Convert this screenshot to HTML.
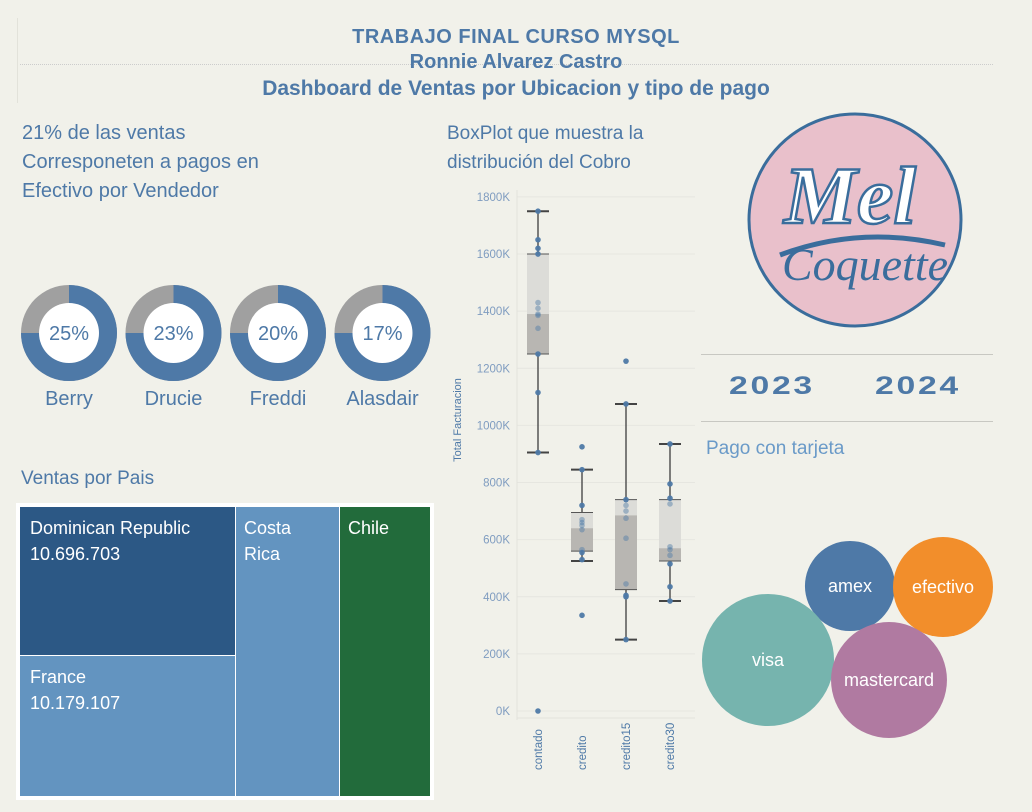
<!DOCTYPE html>
<html><head><meta charset="utf-8"><style>
body{margin:0;background:#f1f1ea;width:1032px;height:812px;overflow:hidden;font-family:"Liberation Sans",sans-serif;position:relative}
.a{position:absolute}
.t{color:#4e79a7;font-weight:bold;text-align:center;width:1032px;left:0}
</style></head><body>
<div class="a t" style="top:26px;font-size:20px;letter-spacing:0.5px">TRABAJO FINAL CURSO MYSQL</div>
<div class="a" style="left:20px;top:64px;width:973px;border-top:1px dotted #ccc"></div>
<div class="a t" style="top:51px;font-size:20px">Ronnie Alvarez Castro</div>
<div class="a t" style="top:77px;font-size:21px">Dashboard de Ventas por Ubicacion y tipo de pago</div>
<div class="a" style="left:17px;top:18px;height:85px;border-left:1px solid #e2e2da"></div>

<div class="a" style="left:22px;top:119px;font-size:20px;line-height:29px;color:#4e79a7">21% de las ventas<br>Corresponeten a pagos en<br>Efectivo por Vendedor</div>
<svg class="a" style="left:0;top:270px" width="440" height="150" id="donuts"></svg>

<div class="a" style="left:21px;top:468px;font-size:19px;color:#4e79a7">Ventas por Pais</div>
<div class="a" style="left:16px;top:503px;width:418px;height:297px;background:#fff"></div>
<div class="a" style="left:20px;top:507px;width:215px;height:148px;background:#2c5885;color:#fff;font-size:18px;line-height:26px;padding:8px 10px;box-sizing:border-box">Dominican Republic<br>10.696.703</div>
<div class="a" style="left:20px;top:656px;width:215px;height:140px;background:#6394c0;color:#fff;font-size:18px;line-height:26px;padding:8px 10px;box-sizing:border-box">France<br>10.179.107</div>
<div class="a" style="left:236px;top:507px;width:103px;height:289px;background:#6394c0;color:#fff;font-size:18px;line-height:26px;padding:8px 8px;box-sizing:border-box">Costa<br>Rica</div>
<div class="a" style="left:340px;top:507px;width:90px;height:289px;background:#226b3b;color:#fff;font-size:18px;line-height:26px;padding:8px 8px;box-sizing:border-box">Chile</div>

<div class="a" style="left:447px;top:119px;font-size:19px;line-height:29px;color:#4e79a7">BoxPlot que muestra la<br>distribución del Cobro</div>
<svg class="a" style="left:440px;top:180px" width="260" height="600" id="box"></svg>

<svg class="a" style="left:740px;top:105px" width="230" height="230">
<circle cx="115" cy="115" r="106" fill="#e9c0cb" stroke="#3a6d9c" stroke-width="3"/>
<text x="110" y="118" text-anchor="middle" font-family="Liberation Serif" font-style="italic" font-weight="bold" font-size="82" fill="#fff" stroke="#3a6d9c" stroke-width="2.5">Mel</text>
<path d="M40 150 Q120 120 205 140" stroke="#3a6d9c" stroke-width="5" fill="none"/>
<text x="125" y="175" text-anchor="middle" font-family="Liberation Serif" font-style="italic" font-size="46" fill="#3a6d9c">Coquette</text>
</svg>
<div class="a" style="left:701px;top:354px;width:292px;border-top:1px solid #c8c8c2"></div>
<div class="a" style="left:729px;top:372px;font-size:25px;font-weight:bold;color:#4e79a7;letter-spacing:2px;transform:scaleX(1.35);transform-origin:left">2023</div>
<div class="a" style="left:875px;top:372px;font-size:25px;font-weight:bold;color:#4e79a7;letter-spacing:2px;transform:scaleX(1.35);transform-origin:left">2024</div>
<div class="a" style="left:701px;top:421px;width:292px;border-top:1px solid #c8c8c2"></div>
<div class="a" style="left:706px;top:438px;font-size:19px;color:#6a9ac8">Pago con tarjeta</div>
<svg class="a" style="left:690px;top:530px" width="320" height="220" id="bub"></svg>

<script>
const NS="http://www.w3.org/2000/svg";
function mk(p,t,a){const e=document.createElementNS(NS,t);for(const k in a)e.setAttribute(k,a[k]);p.appendChild(e);return e;}
// donuts
const sellers=["Berry","Drucie","Freddi","Alasdair"];
const shares=[25,23,20,17];
const ds=document.getElementById('donuts');
sellers.forEach((s,i)=>{
  const cx=69+i*104.5,cy=63,r=48,ri=30;
  const g=mk(ds,'g',{});
  
  
  mk(g,'circle',{cx,cy,r,fill:'#a0a0a0'});
  const f=0.75,a=f*2*Math.PI;
  const x=cx+r*Math.sin(a),y=cy-r*Math.cos(a);
  mk(g,'path',{d:`M${cx} ${cy} L${cx} ${cy-r} A${r} ${r} 0 1 1 ${x} ${y} Z`,fill:'#4e79a7'});
  mk(g,'circle',{cx,cy,r:ri,fill:'#fff'});
  const t=mk(g,'text',{x:cx,y:cy+7,'text-anchor':'middle','font-size':20,fill:'#4e79a7'});t.textContent=shares[i]+'%';
  const l=mk(g,'text',{x:cx,y:cy+72,'text-anchor':'middle','font-size':20,fill:'#4e79a7'});l.textContent=s;
});
// boxplot
const cats=["contado","credito","credito15","credito30"];
const whiskLo=[905,525,250,385];
const q1=[1250,560,425,525];
const med=[1390,640,685,570];
const q3=[1600,695,740,740];
const whiskHi=[1750,845,1075,935];
const pts=[[1750,1650,1620,1600,1430,1410,1390,1385,1340,1250,1115,905,0],
[925,845,720,670,660,650,635,565,555,530,335],
[1225,1075,740,720,700,675,605,445,405,400,250],
[935,795,745,725,575,565,545,515,435,385]];
const ticks=[0,200,400,600,800,1000,1200,1400,1600,1800];
const bx=document.getElementById('box');
const Y=v=>531-v*0.2856, X=i=>98+i*44;
ticks.forEach(v=>{
  mk(bx,'line',{x1:77,x2:255,y1:Y(v),y2:Y(v),stroke:'#e6e6e0'});
  const t=mk(bx,'text',{x:70,y:Y(v)+4,'text-anchor':'end','font-size':11.5,fill:'#7f9cc0'});t.textContent=v+'K';
});
mk(bx,'line',{x1:77,x2:77,y1:10,y2:540,stroke:'#e2e2dc'});
mk(bx,'line',{x1:77,x2:255,y1:538,y2:538,stroke:'#e2e2dc'});
const yt=mk(bx,'text',{transform:'translate(21,240) rotate(-90)','text-anchor':'middle','font-size':11,fill:'#4e79a7'});yt.textContent='Total Facturacion';
cats.forEach((c,i)=>{
  const x=X(i),g=mk(bx,'g',{});
  
  
  mk(g,'line',{x1:x,x2:x,y1:Y(whiskLo[i]),y2:Y(whiskHi[i]),stroke:'#555','stroke-width':1.5});
  mk(g,'rect',{x:x-11,y:Y(q3[i]),width:22,height:Y(med[i])-Y(q3[i]),fill:'#dcdcd8'});
  mk(g,'rect',{x:x-11,y:Y(med[i]),width:22,height:Y(q1[i])-Y(med[i]),fill:'#b8b6b2'});
  [q3[i],q1[i]].forEach(v=>mk(g,'line',{x1:x-11,x2:x+11,y1:Y(v),y2:Y(v),stroke:'#555','stroke-width':1}));
  [whiskLo[i],whiskHi[i]].forEach(v=>mk(g,'line',{x1:x-11,x2:x+11,y1:Y(v),y2:Y(v),stroke:'#444','stroke-width':2}));
  pts[i].forEach(v=>mk(g,'circle',{cx:x,cy:Y(v),r:2.8,fill:'#4e79a7','fill-opacity':(v<q3[i]&&v>q1[i])?0.45:0.95}));
  const t=mk(bx,'text',{transform:`translate(${x+4},${590}) rotate(-90)`,'font-size':11.5,fill:'#4e79a7'});t.textContent=c;
});
// bubbles
const payTypes=["amex","efectivo","visa","mastercard"];
const payVals=[2030,2500,4360,3360];
const bub=document.getElementById('bub');
const cols=['#4e79a7','#f28e2b','#76b4ae','#b07aa1'];
const pos=[[160,56],[253,57],[78,130],[199,150]];
payTypes.forEach((p,i)=>{
  const r=Math.sqrt(payVals[i])*1.0;
  const g=mk(bub,'g',{});
  
  
  mk(g,'circle',{cx:pos[i][0],cy:pos[i][1],r,fill:cols[i]});
  const t=mk(g,'text',{x:pos[i][0],y:pos[i][1]+6,'text-anchor':'middle','font-size':18,fill:'#fff'});t.textContent=p;
});
</script>
</body></html>
